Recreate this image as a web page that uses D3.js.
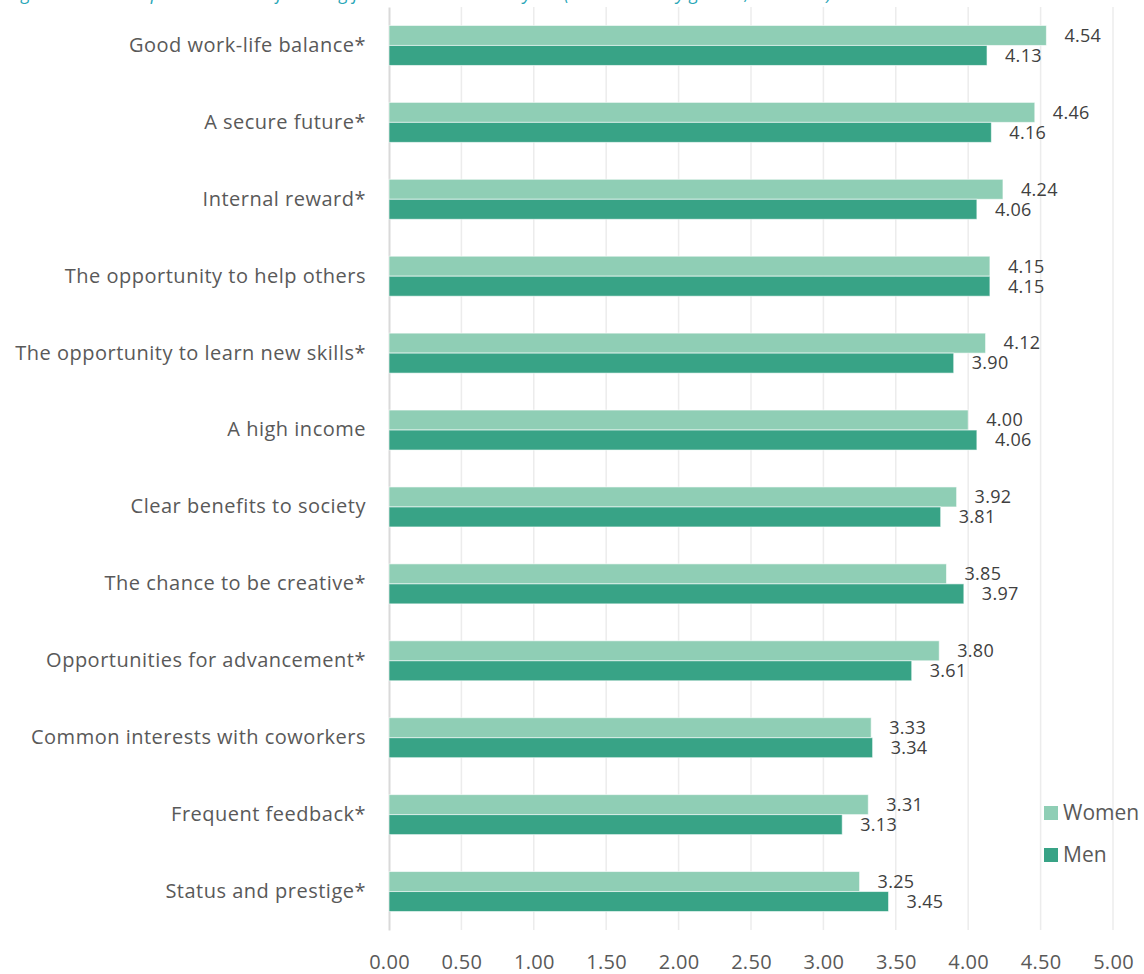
<!DOCTYPE html>
<html>
<head>
<meta charset="utf-8">
<script src="https://cdn.jsdelivr.net/npm/d3@7"></script>
<style>
  body { margin: 0; background: #fff; }
  svg { display: block; font-family: "Open Sans", sans-serif; }
</style>
</head>
<body>
<div id="container"></div>
<script>
/* DATA */
const categories = [
  "Good work-life balance*",
  "A secure future*",
  "Internal reward*",
  "The opportunity to help others",
  "The opportunity to learn new skills*",
  "A high income",
  "Clear benefits to society",
  "The chance to be creative*",
  "Opportunities for advancement*",
  "Common interests with coworkers",
  "Frequent feedback*",
  "Status and prestige*"
];
const women = [4.54, 4.46, 4.24, 4.15, 4.12, 4.00, 3.92, 3.85, 3.80, 3.33, 3.31, 3.25];
const men   = [4.13, 4.16, 4.06, 4.15, 3.90, 4.06, 3.81, 3.97, 3.61, 3.34, 3.13, 3.45];
const seriesNames = ["Women", "Men"];
const xTicks = [0, 0.5, 1, 1.5, 2, 2.5, 3, 3.5, 4, 4.5, 5];
const titleText = "Figure 14: How important are the following job characteristics to you? (mean score by gender, scale 1–5)";

/* CONSTANTS AND GLOBALS */
const width = 1144,
  height = 974,
  margin = { top: 7, right: 31, bottom: 44, left: 389 },
  colors = { Women: "#8fceb5", Men: "#38a386" },
  textColor = "#595959";

let xScale, yScale, subScale, svg;

let state = {
  data: categories.map((c, i) => ({ category: c, Women: women[i], Men: men[i] }))
};

init();

function init() {
  svg = d3.select("#container")
    .append("svg")
    .attr("width", width)
    .attr("height", height);

  xScale = d3.scaleLinear()
    .domain([0, 5])
    .range([margin.left, width - margin.right]);

  yScale = d3.scaleBand()
    .domain(categories)
    .range([margin.top, height - margin.bottom])
    .paddingInner(0.48)
    .paddingOuter(0.24);

  subScale = d3.scaleBand()
    .domain(seriesNames)
    .range([0, yScale.bandwidth()]);

  draw();
}

function draw() {
  // title, mostly cut off at top edge
  svg.append("text")
    .attr("x", 8)
    .attr("y", 0)
    .attr("fill", "#2aa7b8")
    .attr("font-style", "italic")
    .attr("font-size", 18)
    .text(titleText);

  // gridlines
  svg.append("g")
    .selectAll("line")
    .data(xTicks.slice(1))
    .join("line")
    .attr("x1", d => xScale(d))
    .attr("x2", d => xScale(d))
    .attr("y1", margin.top)
    .attr("y2", height - margin.bottom)
    .attr("stroke", "#ececec")
    .attr("stroke-width", 1.5);

  // x axis labels
  const xAxis = d3.axisBottom(xScale)
    .tickValues(xTicks)
    .tickFormat(d3.format(".2f"))
    .tickSize(0)
    .tickPadding(25);
  svg.append("g")
    .attr("transform", `translate(0, ${height - margin.bottom})`)
    .call(xAxis)
    .call(g => g.select(".domain").remove())
    .selectAll("text")
    .attr("fill", textColor)
    .attr("font-size", 20)
    .attr("letter-spacing", "0.3px")
    .attr("font-family", "Open Sans, sans-serif");

  // y axis
  const yAxis = d3.axisLeft(yScale).tickSize(0).tickPadding(23);
  svg.append("g")
    .attr("transform", `translate(${margin.left}, 0)`)
    .call(yAxis)
    .call(g => g.select(".domain")
      .attr("stroke", "#d9d9d9")
      .attr("stroke-width", 2))
    .selectAll("text")
    .attr("fill", textColor)
    .attr("font-size", 20)
    .attr("letter-spacing", "0.5px")
    .attr("font-family", "Open Sans, sans-serif");

  // bars
  const groups = svg.selectAll(".group")
    .data(state.data)
    .join("g")
    .attr("class", "group")
    .attr("transform", d => `translate(0, ${yScale(d.category)})`);

  groups.selectAll("rect")
    .data(d => seriesNames.map(s => ({ key: s, value: d[s] })))
    .join("rect")
    .attr("x", xScale(0))
    .attr("y", d => subScale(d.key))
    .attr("width", d => xScale(d.value) - xScale(0))
    .attr("height", subScale.bandwidth())
    .attr("fill", d => colors[d.key])
    .attr("stroke", "#ffffff")
    .attr("stroke-opacity", 0.6)
    .attr("stroke-width", 1);

  groups.selectAll(".label")
    .data(d => seriesNames.map(s => ({ key: s, value: d[s] })))
    .join("text")
    .attr("class", "label")
    .attr("x", d => xScale(d.value) + 18)
    .attr("y", d => subScale(d.key) + subScale.bandwidth() / 2)
    .attr("dy", "0.35em")
    .attr("fill", "#404040")
    .attr("font-size", 18)
    .attr("letter-spacing", "0.3px")
    .text(d => d3.format(".2f")(d.value));

  // legend
  const legend = svg.append("g")
    .selectAll("g")
    .data(seriesNames)
    .join("g")
    .attr("transform", (d, i) => `translate(1044, ${813 + i * 42})`);

  legend.append("rect")
    .attr("x", 0)
    .attr("y", -7)
    .attr("width", 14)
    .attr("height", 14)
    .attr("fill", d => colors[d]);

  legend.append("text")
    .attr("x", 19)
    .attr("y", 0)
    .attr("dy", "0.35em")
    .attr("fill", textColor)
    .attr("font-size", 21)
    .text(d => d);
}
</script>
</body>
</html>
